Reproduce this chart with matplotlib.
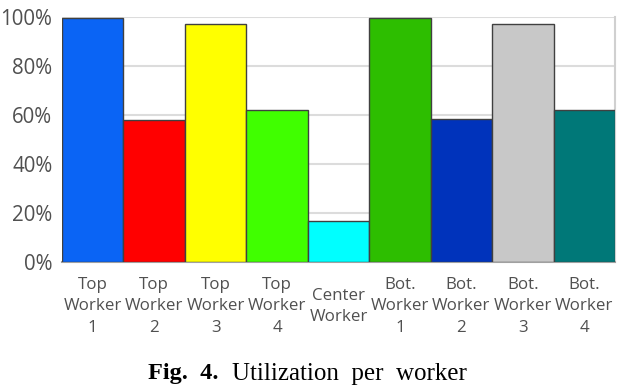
import matplotlib
matplotlib.use('Agg')
import matplotlib.pyplot as plt
from matplotlib.ticker import PercentFormatter

# worker labels and utilization
labels = ['Top\nWorker\n1', 'Top\nWorker\n2', 'Top\nWorker\n3', 'Top\nWorker\n4',
          'Center\nWorker',
          'Bot.\nWorker\n1', 'Bot.\nWorker\n2', 'Bot.\nWorker\n3', 'Bot.\nWorker\n4']
util = [0.996, 0.58, 0.971, 0.62, 0.168, 0.996, 0.584, 0.971, 0.62]
colors = ['#0a64f5', '#ff0000', '#ffff00', '#40ff00', '#00ffff',
          '#2dbe00', '#0033bb', '#c8c8c8', '#007878']

fig = plt.figure(figsize=(6.26, 3.87), dpi=100)
ax = fig.add_axes([0.099, 0.323, 0.8834, 0.633])

x = range(len(util))
ax.bar(x, util, width=1.0, color=colors, edgecolor='#404040', linewidth=1.0, zorder=3)

ax.set_xlim(-0.5, len(util) - 0.5)
ax.set_ylim(0, 1.0)
ax.set_yticks([0, 0.2, 0.4, 0.6, 0.8, 1.0])
ax.yaxis.set_major_formatter(PercentFormatter(1.0, decimals=0))
ax.grid(axis='y', color='#dcdcdc', linewidth=1.5, zorder=0)
ax.set_axisbelow(True)

ax.set_xticks(list(x))
ax.set_xticklabels(labels, va='center', linespacing=1.45)
ax.tick_params(axis='x', length=0, pad=32, labelsize=12.2, labelcolor='#505050')
ax.tick_params(axis='y', length=0, pad=7, labelsize=14.8, labelcolor='#505050')
for t in ax.get_xticklabels() + ax.get_yticklabels():
    t.set_fontfamily('Open Sans')

for s in ['top', 'left']:
    ax.spines[s].set_visible(False)
ax.spines['right'].set_color('#d0d0d0')
ax.spines['right'].set_linewidth(1.5)
ax.spines['bottom'].set_color('#a0a0a0')
ax.spines['bottom'].set_linewidth(1.5)

# caption
fig.text(148 / 626, 1 - 374 / 387, 'Fig.  4.', fontfamily='Liberation Serif',
         fontweight='bold', fontsize=17.5, ha='left', va='center')
fig.text(232 / 626, 1 - 374 / 387, 'Utilization  per  worker',
         fontfamily='Liberation Serif', fontsize=18, ha='left', va='center')

fig.savefig('out.png', dpi=100)
